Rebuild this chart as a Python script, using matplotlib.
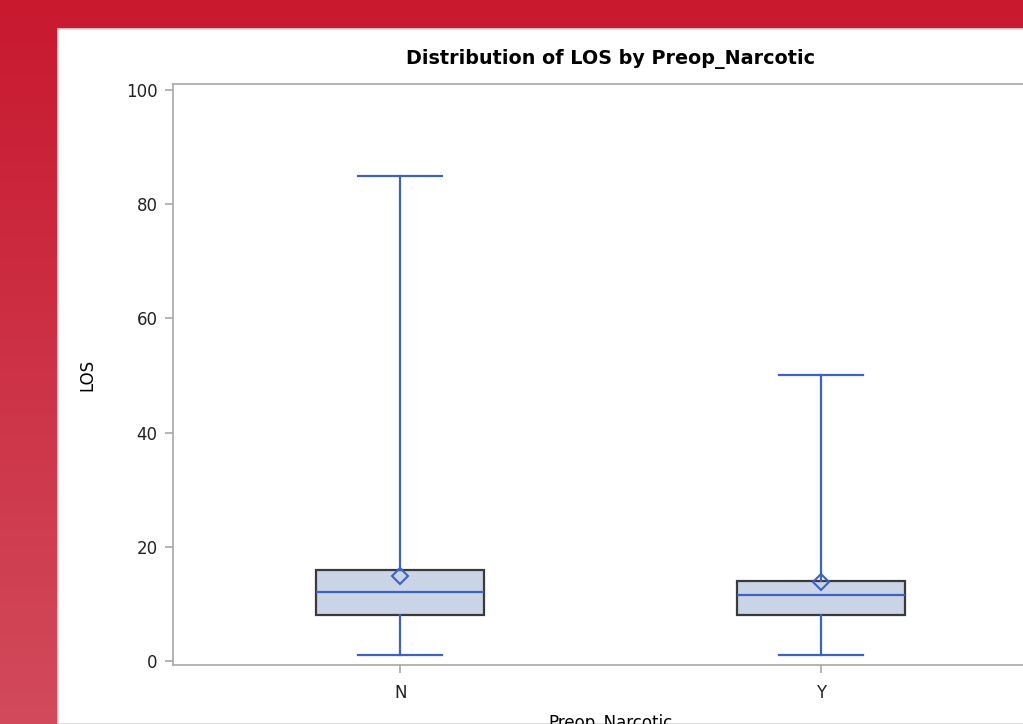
import numpy as np
import matplotlib.pyplot as plt
from matplotlib.colors import LinearSegmentedColormap
from matplotlib.patches import Rectangle

plt.rcParams['font.family'] = ['DejaVu Sans']

# summary stats
groups = ['N', 'Y']
whisker_low = [1, 1]
q1 = [8, 8]
median = [12, 11.5]
q3 = [16, 14]
whisker_high = [85, 50]
means = [14.8, 13.8]

line_blue = '#3D63C2'
box_fill = '#C9D5E6'
axis_gray = '#A8A8A8'

W, H = 1023, 724
fig = plt.figure(figsize=(W / 100, H / 100), dpi=100)

# red gradient backdrop
bg = fig.add_axes([0, 0, 1, 1])
grad = LinearSegmentedColormap.from_list('bg', ['#C8192F', '#D24A5C'])
bg.imshow(np.linspace(0, 1, 256).reshape(-1, 1), aspect='auto', cmap=grad,
          extent=[0, 1, 0, 1], origin='upper')
bg.set_xlim(0, 1)
bg.set_ylim(0, 1)
bg.axis('off')
bg.add_patch(Rectangle((58 / W, 0), 1, (H - 29) / H, facecolor='white',
                       edgecolor='#D8D8D8', linewidth=1.2))

# plot area, the right side runs past the edge of the picture
left, right, top, bottom = 173, 1048, 84, 665
ax = fig.add_axes([left / W, 1 - bottom / H, (right - left) / W, (bottom - top) / H])
ax.patch.set_alpha(0)

stats = []
for i in range(len(groups)):
    stats.append(dict(label=groups[i], whislo=whisker_low[i], q1=q1[i], med=median[i],
                      q3=q3[i], whishi=whisker_high[i], mean=means[i], fliers=[]))

ax.bxp(stats, positions=range(len(groups)), widths=0.4, capwidths=0.2,
       patch_artist=True, showmeans=True, showfliers=False,
       boxprops=dict(facecolor=box_fill, edgecolor='#3A3A3A', linewidth=1.6),
       medianprops=dict(color=line_blue, linewidth=1.6),
       whiskerprops=dict(color=line_blue, linewidth=1.6),
       capprops=dict(color=line_blue, linewidth=1.6),
       meanprops=dict(marker='D', markersize=8.5, markerfacecolor='none',
                      markeredgecolor=line_blue, markeredgewidth=1.5))

ax.set_xlim(-0.54, 1.54)
ax.set_ylim(-0.7, 101.05)
ax.set_yticks([0, 20, 40, 60, 80, 100])
ax.set_xticks(range(len(groups)))
ax.set_xticklabels(groups)

for s in ax.spines.values():
    s.set_color(axis_gray)
    s.set_linewidth(1.2)
ax.tick_params(colors='#222222', labelsize=12, length=6, width=1.2)
ax.tick_params(axis='both', color=axis_gray)
ax.tick_params(axis='y', pad=5)
ax.tick_params(axis='x', pad=8)

ax.set_ylabel('LOS', fontsize=12)
ax.yaxis.set_label_coords(-0.088, 0.5)
# the reference crops this label at the bottom edge
ax.set_xlabel('Preop_Narcotic', fontsize=12)
ax.xaxis.set_label_coords(0.5, -0.084)
fig.text(611 / W, 1 - 59 / H, 'Distribution of LOS by Preop_Narcotic',
         ha='center', va='center', fontsize=13.8, fontweight='bold')

fig.savefig('out.png', dpi=100)
